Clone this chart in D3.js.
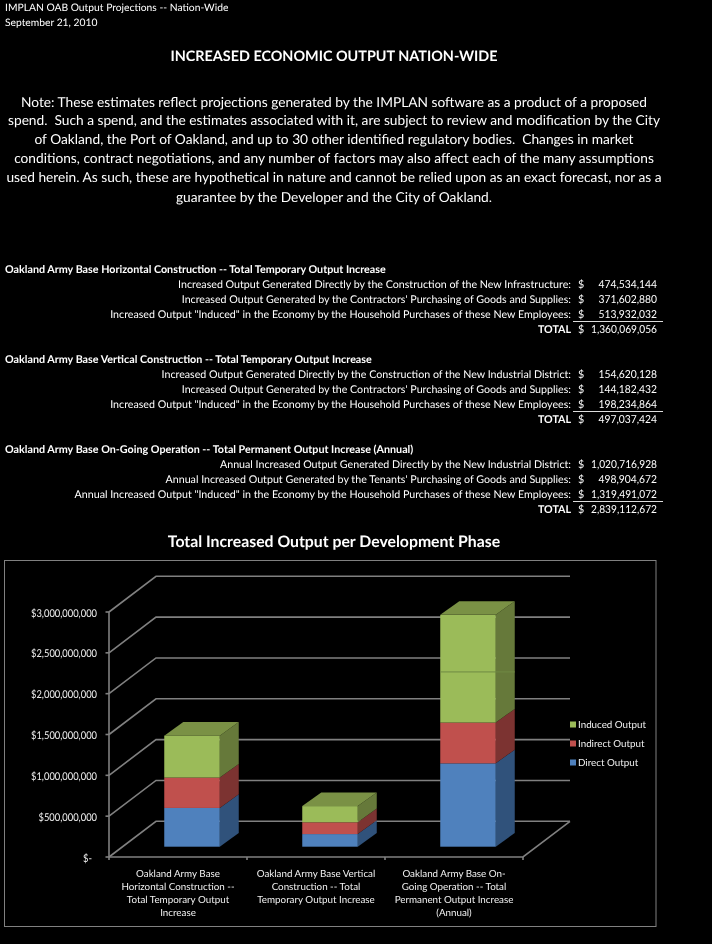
<!DOCTYPE html>
<html><head><meta charset="utf-8">
<script src="https://cdn.jsdelivr.net/npm/d3@7"></script>
<style>html,body{margin:0;padding:0;background:#000}svg{display:block;filter:blur(0.3px)}text{font-family:Lato,"Open Sans",sans-serif;fill:#fff;text-rendering:geometricPrecision}</style>
</head><body><div id="c"></div>
<script>
const headerLines = ["IMPLAN OAB Output Projections -- Nation-Wide","September 21, 2010"];
const pageTitle = "INCREASED ECONOMIC OUTPUT NATION-WIDE";
const noteLines = [
"Note: These estimates reflect projections generated by the IMPLAN software as a product of a proposed",
"spend.  Such a spend, and the estimates associated with it, are subject to review and modification by the City",
"of Oakland, the Port of Oakland, and up to 30 other identified regulatory bodies.  Changes in market",
"conditions, contract negotiations, and any number of factors may also affect each of the many assumptions",
"used herein. As such, these are hypothetical in nature and cannot be relied upon as an exact forecast, nor as a",
"guarantee by the Developer and the City of Oakland."];
const sectionTitles = [
"Oakland Army Base Horizontal Construction -- Total Temporary Output Increase",
"Oakland Army Base Vertical Construction -- Total Temporary Output Increase",
"Oakland Army Base On-Going Operation -- Total Permanent Output Increase (Annual)"];
const rowLabelsA = ["Increased Output Generated Directly by the Construction of the New Infrastructure:","Increased Output Generated by the Contractors' Purchasing of Goods and Supplies:","Increased Output \"Induced\" in the Economy by the Household Purchases of these New Employees:"];
const rowLabelsB = ["Increased Output Generated Directly by the Construction of the New Industrial District:","Increased Output Generated by the Contractors' Purchasing of Goods and Supplies:","Increased Output \"Induced\" in the Economy by the Household Purchases of these New Employees:"];
const rowLabelsC = ["Annual Increased Output Generated Directly by the New Industrial District:","Annual Increased Output Generated by the Tenants' Purchasing of Goods and Supplies:","Annual Increased Output \"Induced\" in the Economy by the Household Purchases of these New Employees:"];
const directOutput = [474534144,154620128,1020716928];
const indirectOutput = [371602880,144182432,498904672];
const inducedOutput = [513932032,198234864,1319491072];
const totals = [1360069056,497037424,2839112672];
const chartTitle = "Total Increased Output per Development Phase";
const yTicks = [0,500000000,1000000000,1500000000,2000000000,2500000000,3000000000];
const categories = [
["Oakland Army Base","Horizontal Construction --","Total Temporary Output","Increase"],
["Oakland Army Base Vertical","Construction -- Total","Temporary Output Increase"],
["Oakland Army Base On-","Going Operation -- Total","Permanent Output Increase","(Annual)"]];
const seriesNames = ["Direct Output","Indirect Output","Induced Output"];
const seriesColors = ["#4f81bd","#c0504d","#9bbb59"];
const sideColors = ["#30527b","#7c3331","#66793a"];
const topColor = "#7a9145";

const svg = d3.select("#c").append("svg").attr("width",712).attr("height",944);
const fs = 10.68;
function t(x,y,s,o={}){const n=svg.append("text").attr("x",x).attr("y",y).attr("dominant-baseline","central")
  .attr("text-anchor",o.a||"start").style("font-size",(o.s||fs)+"px").style("font-weight",o.b?700:400)
  .style("fill",o.c||"#fff").attr("xml:space","preserve").style("white-space","pre").text(s);
  if(o.w){n.attr("textLength",o.w).attr("lengthAdjust","spacingAndGlyphs");}
  return n;}
// numbers: Lato figures run wider than the reference's, so fit them to the measured width
const numW = v => (fmt(v).length>11 ? 66 : 58.5);

headerLines.forEach((s,i)=>t(5,8+i*15,s,{s:10.3}));
t(334,56,pageTitle,{a:"middle",b:1,s:14.4});
const noteY=[101.5,119.5,138.5,157.5,176.5,196.5];
noteLines.forEach((s,i)=>t(334,noteY[i],s,{a:"middle",s:13.72}));

const rowSets=[rowLabelsA,rowLabelsB,rowLabelsC];
const fmt=d3.format(",");
const startY=[269,359,449];
sectionTitles.forEach((s,k)=>{
  const y0=startY[k];
  t(5,y0,s,{b:1,s:10.75});
  const vals=[directOutput[k],indirectOutput[k],inducedOutput[k]];
  rowSets[k].forEach((l,i)=>{
    const y=y0+15*(i+1);
    t(571,y,l,{a:"end"});
    t(578,y,"$");
    t(657,y,fmt(vals[i]),{a:"end",w:numW(vals[i]),s:11});
  });
  const y=y0+60;
  t(571,y,"TOTAL",{a:"end",b:1});
  t(578,y,"$");
  t(657,y,fmt(totals[k]),{a:"end",w:numW(totals[k]),s:11});
  svg.append("line").attr("x1",573).attr("x2",663).attr("y1",y0+52.5).attr("y2",y0+52.5).attr("stroke","#ddd").attr("stroke-width",1);
});

t(334,541,chartTitle,{a:"middle",b:1,s:15.8});
svg.append("rect").attr("x",4.5).attr("y",560.5).attr("width",651.5).attr("height",366).attr("fill","#000").attr("stroke","#808080").attr("stroke-width",1);

// 3D chart
const y=d3.scaleLinear().domain([0,3e9]).range([857,612]);
const x=d3.scaleBand().domain([0,1,2]).range([109,523]);
const depthX=47, depthY=-35.7;
const grid="#808080";
const gLines=svg.append("g").attr("stroke",grid).attr("stroke-width",1.6).attr("fill","none");
yTicks.forEach(v=>{
  const yy=y(v);
  gLines.append("path").attr("d",`M${109},${yy}L${109+depthX},${yy+depthY}L570,${yy+depthY}`);
  gLines.append("line").attr("x1",105.5).attr("x2",109).attr("y1",yy).attr("y2",yy);
  const lab=v===0?"$-":"$"+fmt(v);
  t(v===0?92:97,yy+1,lab,{a:"end",s:10.8,c:"#f0f0f0",w:v===0?9:(v<1e9?58.5:66)});
});
gLines.append("line").attr("x1",109).attr("x2",109).attr("y1",y(3e9)).attr("y2",y(0));
gLines.append("path").attr("d",`M109,${y(0)}L523,${y(0)}L570,${y(0)+depthY}`);
[0,1,2].forEach(i=>gLines.append("line").attr("x1",x(i)).attr("x2",x(i)).attr("y1",y(0)).attr("y2",y(0)+3));
gLines.append("line").attr("x1",523).attr("x2",523).attr("y1",y(0)).attr("y2",y(0)+3);

// bars
const stack=d3.stack().keys([0,1,2]).value((d,k)=>d[k])(d3.range(3).map(i=>[directOutput[i],indirectOutput[i],inducedOutput[i]]));
const barW=55.5, fx=14, fy=-10.3, dx=19, dy=-13.7;
const bars=svg.append("g");
d3.range(3).forEach(i=>{
  const left=x(i)+x.bandwidth()/2+fx-barW/2;
  stack.forEach((s,k)=>{
    const y0=y(s[i][0])+fy, y1=y(s[i][1])+fy;
    bars.append("polygon").attr("fill",sideColors[k])
      .attr("points",[[left+barW,y0],[left+barW+dx,y0+dy],[left+barW+dx,y1+dy],[left+barW,y1]].join(" "));
    bars.append("rect").attr("x",left).attr("y",y1).attr("width",barW).attr("height",y0-y1).attr("fill",seriesColors[k]);
  });
  const top=y(stack[2][i][1])+fy;
  bars.append("polygon").attr("fill",topColor)
    .attr("points",[[left,top],[left+barW,top],[left+barW+dx,top+dy],[left+dx,top+dy]].join(" "));
});
// faint seam crossing the tall bar, as in the reference
const seam=2.14e9, seamL=x(2)+x.bandwidth()/2+fx-barW/2;
bars.append("line").attr("x1",seamL).attr("x2",seamL+barW+dx).attr("y1",y(seam)+fy).attr("y2",y(seam)+fy).attr("stroke","#6f8a44").attr("stroke-width",1);

// category labels
const catX=d3.range(3).map(i=>x(i)+x.bandwidth()/2);
categories.forEach((ls,i)=>ls.forEach((s,j)=>t(catX[i],874+j*12.9,s,{a:"middle",s:9.8,c:"#f0f0f0"})));

// legend
[2,1,0].forEach((k,i)=>{
  const yy=724.5+i*19;
  svg.append("rect").attr("x",570).attr("y",yy-3).attr("width",6).attr("height",6).attr("fill",seriesColors[k]);
  t(578,yy,seriesNames[k],{s:9.8,c:"#f0f0f0"});
});
</script></body></html>
